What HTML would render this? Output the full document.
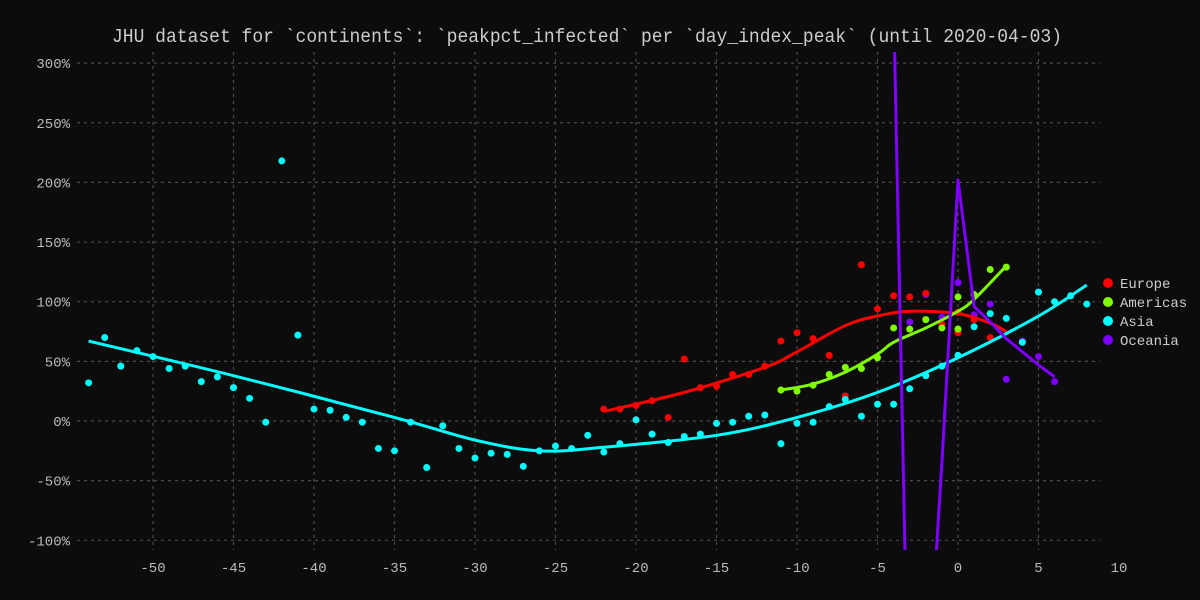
<!DOCTYPE html>
<html><head><meta charset="utf-8"><style>
html,body{margin:0;padding:0;background:#0c0c0c;width:1200px;height:600px;overflow:hidden;}
svg{display:block;font-family:"Liberation Mono","DejaVu Sans Mono",monospace;}
</style></head><body>
<svg id="chart" width="1200" height="600" xmlns="http://www.w3.org/2000/svg">
<rect width="1200" height="600" fill="#0c0c0c"/>
<text x="587" y="42" text-anchor="middle" fill="#cccccc" font-size="19" textLength="950" lengthAdjust="spacingAndGlyphs">JHU dataset for `continents`: `peakpct_infected` per `day_index_peak` (until 2020-04-03)</text>
<g id="grid"></g>
<g id="ticks"></g>
<defs><clipPath id="clip"><rect x="78" y="52" width="1022" height="498"/></clipPath></defs>
<g id="series" clip-path="url(#clip)"></g>
<g id="legend"></g>
</svg>
<script>
const xTicks=[-50,-45,-40,-35,-30,-25,-20,-15,-10,-5,0,5,10];
const yTicks=[-100,-50,0,50,100,150,200,250,300];
const seriesNames=["Europe","Americas","Asia","Oceania"];
const seriesColors=["#ff0000","#80ff00","#00ffff","#7f00ff"];
const europeDays=[-22,-21,-20,-19,-18,-17,-16,-15,-14,-13,-12,-11,-10,-9,-8,-7,-6,-5,-4,-3,-2,-1,0,0,1,2];
const europeVals=[10,10,13,17,3,52,28,29,39,39,46,67,74,69,55,21,131,94,105,104,107,81,74,91,85,70];
const europeFitDays=[-22,-17,-12,-10,-7,-5,-3,0,2,3];
const europeFitVals=[8,24,45,58,80,88,92,90,82,75];
const americasDays=[-11,-10,-9,-8,-7,-6,-5,-4,-3,-2,-1,0,0,1,2,3];
const americasVals=[26,25,30,39,45,44,53,78,77,85,78,104,77,106,127,129];
const americasFitDays=[-11,-9,-7,-5,-4,-2,0,1,3];
const americasFitVals=[26,31,41,56,66,78,92,102,130];
const asiaDays=[-54,-53,-52,-51,-50,-49,-48,-47,-46,-45,-44,-43,-42,-41,-40,-39,-38,-37,-36,-35,-34,-33,-32,-31,-30,-29,-28,-27,-26,-25,-24,-23,-22,-21,-20,-19,-18,-17,-16,-15,-14,-13,-12,-11,-10,-9,-8,-7,-6,-5,-4,-3,-2,-1,0,1,2,3,4,5,6,7,8];
const asiaVals=[32,70,46,59,54,44,46,33,37,28,19,-1,218,72,10,9,3,-1,-23,-25,-1,-39,-4,-23,-31,-27,-28,-38,-25,-21,-23,-12,-26,-19,1,-11,-18,-13,-11,-2,-1,4,5,-19,-2,-1,12,18,4,14,14,27,38,46,55,79,90,86,66,108,100,105,98];
const asiaFitDays=[-54,-45,-35,-30,-26,-22,-15,-10,-5,0,5,8];
const asiaFitVals=[67,38,3,-16,-25,-22,-12,3,24,53,88,114];
const oceaniaDays=[-3,-2,-1,0,1,2,3,4,5,6];
const oceaniaVals=[83,106,87,116,89,98,35,67,54,33];
const oceaniaLineDays=[-4,-3,-2,-1,0,1,2,3,4,5,6];
const oceaniaLineVals=[350,-300,-250,-35,202,96,83,69,58,47,37];

const NS="http://www.w3.org/2000/svg";
const X=d=>958+16.1*d;
const Y=v=>421-1.193*v;
function mk(tag,attrs,parent){const e=document.createElementNS(NS,tag);for(const k in attrs)e.setAttribute(k,attrs[k]);parent.appendChild(e);return e;}
const grid=document.getElementById('grid'),ticks=document.getElementById('ticks'),ser=document.getElementById('series'),leg=document.getElementById('legend');
xTicks.forEach(t=>{
  if(t<10){const l=mk('line',{x1:X(t),x2:X(t),y1:52,y2:550,stroke:'#4a4a4a','stroke-width':1.2,'stroke-dasharray':'3,4'},grid);
  
  }
  const tx=mk('text',{x:X(t),y:572,'text-anchor':'middle',fill:'#bbbbbb','font-size':14},ticks);tx.textContent=t;
  
  
});
yTicks.forEach(t=>{
  const l=mk('line',{x1:77,x2:1100,y1:Y(t),y2:Y(t),stroke:'#4a4a4a','stroke-width':1.2,'stroke-dasharray':'3,4'},grid);
  
  
  const tx=mk('text',{x:70,y:Y(t)+5,'text-anchor':'end',fill:'#bbbbbb','font-size':14},ticks);tx.textContent=t+'%';
  
  
});
function smooth(ds,vs,c,name){
  const P=ds.map((d,i)=>[X(d),Y(vs[i])]);
  let s='M'+P[0][0]+','+P[0][1];
  for(let i=0;i<P.length-1;i++){
    const p0=P[Math.max(0,i-1)],p1=P[i],p2=P[i+1],p3=P[Math.min(P.length-1,i+2)];
    const c1=[p1[0]+(p2[0]-p0[0])/6,p1[1]+(p2[1]-p0[1])/6];
    const c2=[p2[0]-(p3[0]-p1[0])/6,p2[1]-(p3[1]-p1[1])/6];
    s+=' C'+c1+' '+c2+' '+p2;
  }
  const p=mk('path',{d:s,fill:'none',stroke:c,'stroke-width':3},ser);
  
  
}
function line(ds,vs,c,name){
  const p=mk('polyline',{points:ds.map((d,i)=>X(d)+','+Y(vs[i])).join(' '),fill:'none',stroke:c,'stroke-width':3,'stroke-linejoin':'round'},ser);
  
  
}
function pts(ds,vs,c,name){
  ds.forEach((d,i)=>{const e=mk('circle',{cx:X(d),cy:Y(vs[i]),r:3.5,fill:c},ser);
  
  });
}
pts(oceaniaDays,oceaniaVals,seriesColors[3],'oceania-point');
pts(europeDays,europeVals,seriesColors[0],'europe-point');
pts(americasDays,americasVals,seriesColors[1],'americas-point');
pts(asiaDays,asiaVals,seriesColors[2],'asia-point');
smooth(europeFitDays,europeFitVals,seriesColors[0],'europe-trend-line');
smooth(americasFitDays,americasFitVals,seriesColors[1],'americas-trend-line');
smooth(asiaFitDays,asiaFitVals,seriesColors[2],'asia-trend-line');
line(oceaniaLineDays,oceaniaLineVals,seriesColors[3],'oceania-trend-line');
seriesNames.forEach((n,i)=>{
  const y=283+19*i;
  const c=mk('circle',{cx:1108,cy:y,r:5,fill:seriesColors[i]},leg);
  
  
  const t=mk('text',{x:1120,y:y+5,fill:'#cccccc','font-size':14},leg);t.textContent=n;
  
  
});
</script>
</body></html>
